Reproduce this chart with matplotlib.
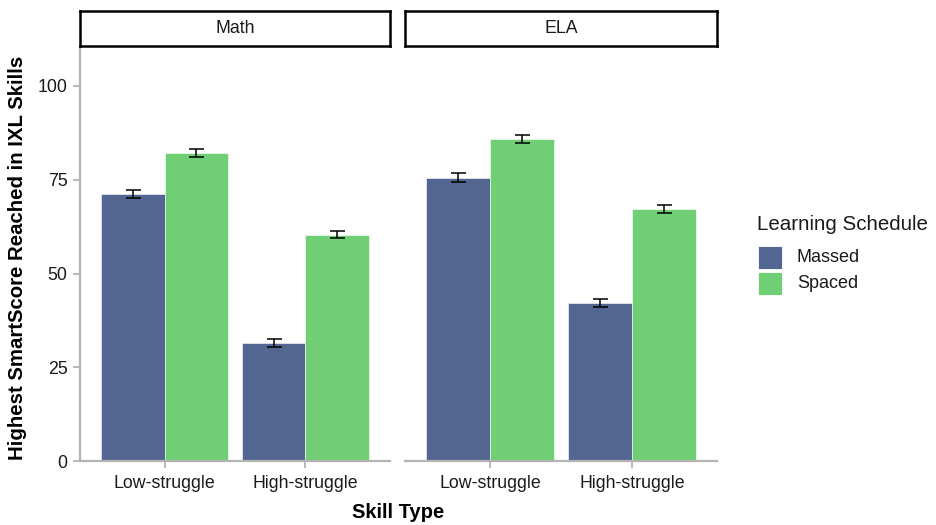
import numpy as np
import matplotlib
matplotlib.use("Agg")
import matplotlib.pyplot as plt
from matplotlib.patches import Rectangle

plt.rcParams["font.family"] = ["Liberation Sans", "DejaVu Sans"]

# mean highest SmartScore with standard-error bars
skills = ["Low-struggle", "High-struggle"]
subjects = ["Math", "ELA"]
schedules = ["Massed", "Spaced"]
massed_mean = {"Math": [71.2, 31.5], "ELA": [75.6, 42.2]}
spaced_mean = {"Math": [82.2, 60.4], "ELA": [85.8, 67.3]}
massed_se = {"Math": [1.0, 1.0], "ELA": [1.1, 1.1]}
spaced_se = {"Math": [1.0, 1.0], "ELA": [1.1, 1.1]}

col_massed = "#536591"
col_spaced = "#70cf74"
grey = "#b3b3b3"
txt = "#1a1a1a"

W, H = 936, 525
fig = plt.figure(figsize=(W / 100, H / 100), dpi=100)

def fig_rect(x0, y0, x1, y1):
    # pixel box (top-left origin) -> figure fraction
    return [x0 / W, 1 - y1 / H, (x1 - x0) / W, (y1 - y0) / H]

panels = [(80, 390), (405, 717)]
x = np.arange(len(skills))
bw = 0.45

for i, (subj, (px0, px1)) in enumerate(zip(subjects, panels)):
    ax = fig.add_axes(fig_rect(px0, 47, px1, 461))
    ax.bar(x - bw / 2, massed_mean[subj], width=bw, color=col_massed,
           edgecolor="white", linewidth=0.4)
    ax.bar(x + bw / 2, spaced_mean[subj], width=bw, color=col_spaced,
           edgecolor="white", linewidth=0.4)
    ax.errorbar(x - bw / 2, massed_mean[subj], yerr=massed_se[subj], fmt="none",
                ecolor="black", elinewidth=1.1, capsize=5.4, capthick=1.1)
    ax.errorbar(x + bw / 2, spaced_mean[subj], yerr=spaced_se[subj], fmt="none",
                ecolor="black", elinewidth=1.1, capsize=5.4, capthick=1.1)

    ax.set_xlim(-0.6, 1.6)
    ax.set_ylim(0, 110.4)
    ax.set_xticks(x)
    ax.set_xticklabels(skills, fontsize=12.8, color=txt)
    for s in ["top", "right"]:
        ax.spines[s].set_visible(False)
    ax.spines["bottom"].set_color(grey)
    ax.spines["bottom"].set_linewidth(1.6)
    ax.tick_params(axis="x", colors=grey, labelcolor=txt, length=5,
                   width=1.3, pad=5)
    if i == 0:
        ax.spines["left"].set_color(grey)
        ax.spines["left"].set_linewidth(1.6)
        ax.set_yticks([0, 25, 50, 75, 100])
        ax.tick_params(axis="y", colors=grey, labelcolor=txt, length=5,
                       width=1.3, labelsize=12.8, pad=4)
    else:
        ax.spines["left"].set_visible(False)
        ax.set_yticks([])

    # facet strip
    sax = fig.add_axes(fig_rect(px0, 11, px1, 46))
    sax.set_xticks([])
    sax.set_yticks([])
    for s in sax.spines.values():
        s.set_linewidth(1.8)
        s.set_color("black")
    sax.text(0.5, 0.5, subj, ha="center", va="center", fontsize=12.8,
             color=txt, transform=sax.transAxes)

fig.text(398 / W, 1 - 512 / H, "Skill Type", ha="center", va="center",
         fontsize=14.5, fontweight="bold")
fig.text(18 / W, 1 - 258 / H, "Highest SmartScore Reached in IXL Skills",
         ha="center", va="center", rotation=90, fontsize=14.7, fontweight="bold")

# legend, laid out by hand in pixel units
fig.text(757 / W, 1 - 230 / H, "Learning Schedule", ha="left", va="baseline",
         fontsize=14.8, color=txt)
for k, (name, col) in enumerate(zip(schedules, [col_massed, col_spaced])):
    top = 246 + k * 26
    fig.patches.append(Rectangle((758 / W, 1 - (top + 23) / H), 24 / W, 23 / H,
                                 transform=fig.transFigure, facecolor=col,
                                 edgecolor="white", linewidth=0.6))
    fig.text(797 / W, 1 - (top + 11.5) / H, name, ha="left", va="center",
             fontsize=13, color=txt)

fig.savefig("out.png", dpi=100)
